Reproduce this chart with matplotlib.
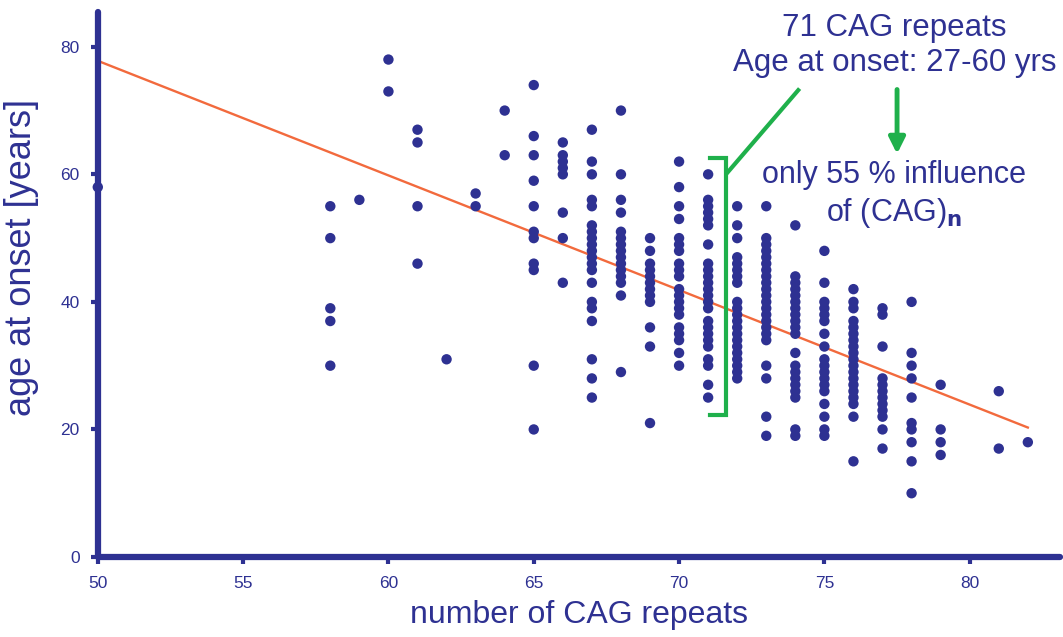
import matplotlib.pyplot as plt
import numpy as np

# Datos: edad de inicio por número de repeticiones CAG
cag_repeats = [50, 58, 59, 60, 61, 62, 63, 64, 65, 66, 67, 68, 69, 70, 71,
               72, 73, 74, 75, 76, 77, 78, 79, 81, 82]
onset_ages = [
    [58],
    [55, 50, 39, 37, 30],
    [56],
    [78, 73],
    [67, 65, 55, 46],
    [31],
    [57, 55],
    [70, 63],
    [74, 66, 63, 59, 55, 51, 50, 46, 45, 30, 20],
    [65, 63, 62, 61, 60, 54, 50, 43],
    [67, 62, 60, 56, 55, 52, 51, 50, 49, 48, 47, 46, 45, 43, 40, 39, 37, 31, 28, 25],
    [70, 60, 56, 54, 51, 50, 49, 48, 47, 46, 45, 44, 43, 41, 29],
    [50, 48, 46, 45, 44, 43, 42, 41, 40, 36, 33, 21],
    [62, 58, 55, 53, 50, 49, 48, 46, 45, 44, 42, 41, 40, 39, 38, 36, 35, 34, 32, 30],
    [60, 56, 55, 54, 53, 52, 49, 46, 45, 44, 43, 42, 41, 40, 39, 37, 36, 35, 34,
     33, 31, 30, 27, 25],
    [55, 52, 50, 47, 46, 45, 44, 43, 40, 39, 38, 37, 36, 35, 34, 33, 32, 31, 30, 29, 28],
    [55, 50, 49, 48, 47, 46, 45, 44, 43, 42, 41, 40, 39, 38, 37, 36, 35, 34, 30,
     28, 22, 19],
    [52, 44, 43, 42, 41, 40, 39, 38, 37, 36, 35, 32, 30, 29, 28, 27, 26, 25, 20, 19],
    [48, 43, 40, 39, 38, 37, 35, 33, 31, 30, 29, 28, 27, 26, 24, 22, 20, 19],
    [42, 40, 39, 37, 36, 35, 34, 33, 32, 31, 30, 29, 28, 27, 26, 25, 24, 22, 15],
    [39, 38, 33, 28, 27, 26, 25, 24, 23, 22, 20, 17],
    [40, 32, 30, 28, 25, 21, 20, 18, 15, 10],
    [27, 20, 18, 16],
    [26, 17],
    [18],
]

# Recta de regresión (extremos)
fit_x = [50, 82]
fit_y = [77.8, 20.3]

x_ticks = [50, 55, 60, 65, 70, 75, 80]
y_ticks = [0, 20, 40, 60, 80]

NAVY = '#2e3192'
GREEN = '#1fb04b'
ORANGE = '#f26a3d'


def plot_cag_onset():
    plt.rcParams['font.family'] = ['Liberation Sans', 'DejaVu Sans']

    fig = plt.figure(figsize=(10.63, 6.37), dpi=100)
    ax = fig.add_axes([0.092, 0.1256, 0.905, 0.856])

    # Aplanar los datos
    xs = np.concatenate([[c] * len(a) for c, a in zip(cag_repeats, onset_ages)])
    ys = np.concatenate([np.array(a, dtype=float) for a in onset_ages])

    ax.plot(fit_x, fit_y, color=ORANGE, lw=1.7, zorder=2)
    ax.scatter(xs, ys, s=56, color=NAVY, edgecolors='none', zorder=3, clip_on=False)

    ax.set_xlim(50, 83.1)
    ax.set_ylim(0, 85.5)
    ax.set_xticks(x_ticks)
    ax.set_yticks(y_ticks)

    for side in ['top', 'right']:
        ax.spines[side].set_visible(False)
    for side in ['left', 'bottom']:
        ax.spines[side].set_color(NAVY)
        ax.spines[side].set_linewidth(4.5)
        ax.spines[side].set_capstyle('round')

    ax.tick_params(axis='both', colors=NAVY, width=3, length=5, labelsize=12.5,
                   direction='out')
    ax.tick_params(axis='x', pad=9)
    ax.tick_params(axis='y', pad=8)

    ax.set_xlabel('number of CAG repeats', fontsize=23, color=NAVY, labelpad=6)
    ax.set_ylabel('age at onset [years]', fontsize=26, color=NAVY)
    ax.yaxis.set_label_coords(-0.061, 0.55)

    # Anotaciones
    ax.text(77.42, 82.9, '71 CAG repeats', fontsize=22.5, color=NAVY,
            ha='center', va='center', clip_on=False)
    ax.text(77.42, 77.5, 'Age at onset: 27-60 yrs', fontsize=22.5, color=NAVY,
            ha='center', va='center', clip_on=False)
    ax.text(77.4, 59.9, 'only 55 % influence', fontsize=22, color=NAVY,
            ha='center', va='center')
    ax.text(77.4, 53.9, r'of (CAG)$_{\mathbf{n}}$', fontsize=22, color=NAVY,
            ha='center', va='center')

    # Corchete verde para 71 repeticiones
    ax.plot([71.05, 71.62, 71.62, 71.05], [62.6, 62.6, 22.2, 22.2],
            color=GREEN, lw=3, solid_joinstyle='miter', zorder=4)
    ax.plot([71.65, 74.1], [60.2, 73.2], color=GREEN, lw=3, zorder=4)
    ax.annotate('', xy=(77.5, 63.2), xytext=(77.5, 73.3),
                arrowprops=dict(arrowstyle='-|>', color=GREEN, lw=3.5,
                                mutation_scale=24, shrinkA=0, shrinkB=0))

    plt.savefig('out.png', dpi=100)
    plt.close()


if __name__ == "__main__":
    plot_cag_onset()
